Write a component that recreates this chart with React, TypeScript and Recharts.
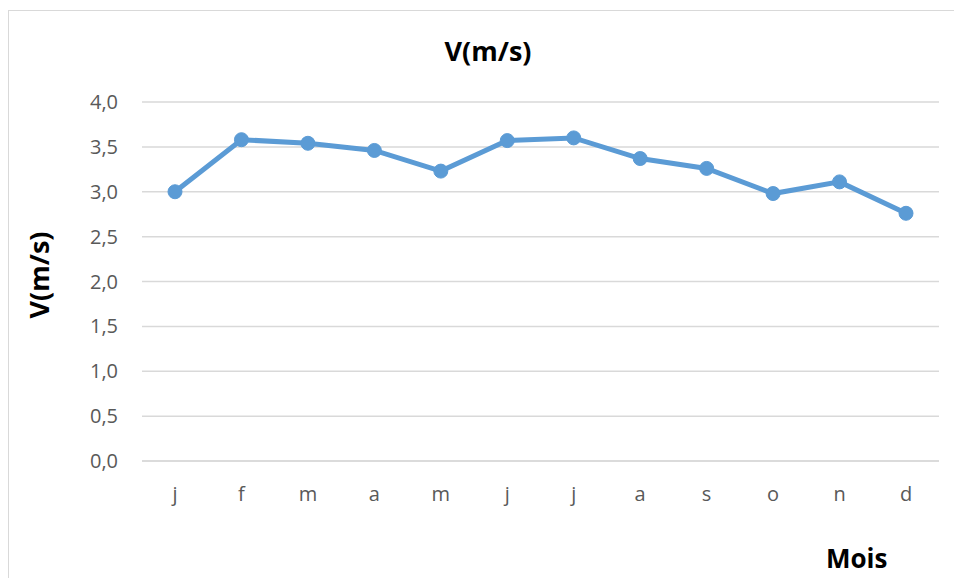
import React from "react";
import { LineChart, Line, XAxis, YAxis, CartesianGrid } from "recharts";

const months = ["j", "f", "m", "a", "m", "j", "j", "a", "s", "o", "n", "d"];
const speeds = [3.0, 3.58, 3.54, 3.46, 3.23, 3.57, 3.6, 3.37, 3.26, 2.98, 3.11, 2.76];
const yTicks = [0, 0.5, 1, 1.5, 2, 2.5, 3, 3.5, 4];

const data = months.map((m, i) => ({ key: i, month: m, v: speeds[i] }));

const font = "'Open Sans', 'Noto Sans', sans-serif";

const App = () => {
  return (
    <div
      style={{
        position: "fixed",
        left: 0,
        top: 0,
        width: 954,
        height: 578,
        overflow: "hidden",
        background: "#fff",
        fontFamily: font,
      }}
    >
      <div
        style={{
          position: "absolute",
          left: 8,
          top: 10,
          width: 960,
          height: 620,
          border: "1px solid #d9d9d9",
        }}
      />
      <div
        style={{
          position: "absolute",
          left: 388,
          top: 33,
          width: 200,
          textAlign: "center",
          fontSize: 27,
          fontWeight: 700,
          lineHeight: "36px",
          color: "#000",
        }}
      >
        V(m/s)
      </div>
      <div
        style={{
          position: "absolute",
          left: 38,
          top: 275,
          transform: "translate(-50%, -50%) rotate(-90deg)",
          fontSize: 27,
          fontWeight: 700,
          whiteSpace: "nowrap",
          color: "#000",
        }}
      >
        V(m/s)
      </div>
      <div
        style={{
          position: "absolute",
          left: 826,
          top: 540,
          fontSize: 26,
          fontWeight: 700,
          lineHeight: "36px",
          color: "#000",
        }}
      >
        Mois
      </div>
      <div style={{ position: "absolute", left: 0, top: 0 }}>
        <LineChart
          width={954}
          height={578}
          data={data}
          margin={{ top: 102, right: 15, left: 82, bottom: 87 }}
        >
          <CartesianGrid vertical={false} stroke="#d9d9d9" strokeWidth={1.5} />
          <XAxis
            dataKey="key"
            tickFormatter={(i: number) => months[i]}
            axisLine={{ stroke: "#d9d9d9", strokeWidth: 1.5 }}
            tickLine={false}
            tickMargin={20}
            padding={{ left: 33, right: 33 }}
            tick={{ fill: "#595959", fontSize: 20, fontFamily: font }}
            interval={0}
          />
          <YAxis
            width={60}
            domain={[0, 4]}
            ticks={yTicks}
            tickFormatter={(v: number) => v.toFixed(1).replace(".", ",")}
            axisLine={false}
            tickLine={false}
            tickMargin={18}
            tick={{ fill: "#595959", fontSize: 20, fontFamily: font }}
          />
          <Line
            dataKey="v"
            stroke="#5b9bd5"
            strokeWidth={5}
            dot={{ r: 7, fill: "#5b9bd5", stroke: "#5b9bd5", strokeWidth: 1 }}
            isAnimationActive={false}
          />
        </LineChart>
      </div>
    </div>
  );
};

export default App;
